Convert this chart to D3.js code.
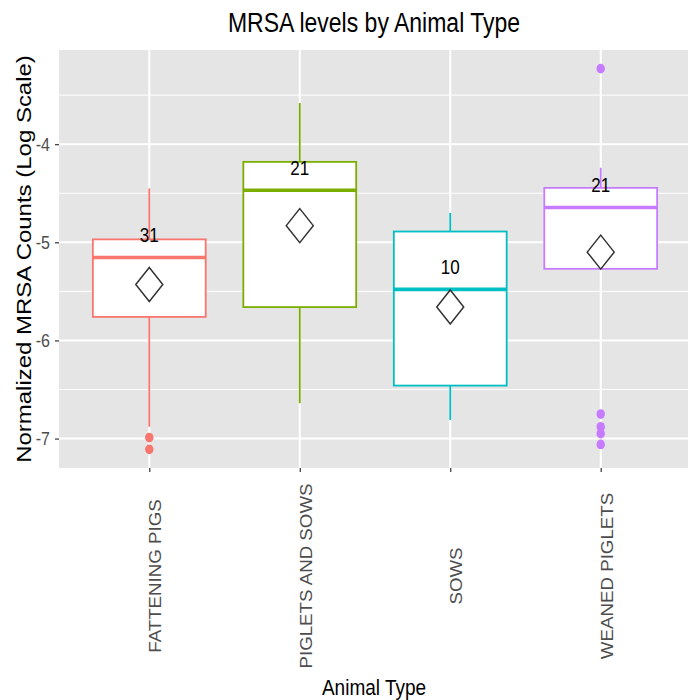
<!doctype html>
<html>
<head>
    <style>
        body { margin: 0; background: #fff; }
        text { font-family: "Liberation Sans", Arial, sans-serif; }
    </style>
    <script src="https://cdn.jsdelivr.net/npm/d3@7"></script>
</head>
<body>
<svg width="688" height="700" class="chart"></svg>
<script>

    // values (log scale)
    var categories = ["FATTENING PIGS", "PIGLETS AND SOWS", "SOWS", "WEANED PIGLETS"];
    var counts     = [31, 21, 10, 21];
    var whiskerLow = [-6.88, -6.64, -6.81, -5.27];
    var q1         = [-5.76, -5.66, -6.46, -5.27];
    var medians    = [-5.155, -4.47, -5.48, -4.645];
    var q3         = [-4.97, -4.18, -4.89, -4.445];
    var whiskerHigh= [-4.45, -3.58, -4.70, -4.24];
    var means      = [-5.43, -4.83, -5.66, -5.10];
    var outliers   = [[-6.99, -7.11], [], [], [-3.23, -6.75, -6.88, -6.95, -7.06]];
    var yTicks     = [-4, -5, -6, -7];
    var yMinor     = [-3.5, -4.5, -5.5, -6.5];
    var colors     = ["#F8766D", "#7CAE00", "#00BFC4", "#C77CFF"];

    var svg = d3.select(".chart"),
        panel = {left: 59, top: 50, right: 691, bottom: 468},
        stretch = 1.17;   // the picture is a bit taller than wide

    var boxes = categories.map(function(c, i) {
        return {cat: c, n: counts[i], lo: whiskerLow[i], q1: q1[i], med: medians[i],
                q3: q3[i], hi: whiskerHigh[i], mean: means[i], out: outliers[i], color: colors[i]};
    });

    var x = d3.scalePoint().domain(categories).range([panel.left, panel.right]).padding(0.6),
        y = d3.scaleLinear().domain([-7.30, -3.04]).range([panel.bottom, panel.top]),
        boxW = x.step() * 0.75;

    // text helper: font stretched vertically like the picture
    function label(px, py, str, size, opts) {
        opts = opts || {};
        var g = svg.append("g")
            .attr("transform", "translate(" + px + "," + py + ") scale(1," + stretch + ")" + (opts.rotate ? " rotate(-90)" : ""));
        return g.append("text")
            .attr("font-size", size + "px")
            .attr("text-anchor", opts.anchor || "middle")
            .attr("dy", opts.dy || 0)
            .attr("fill", opts.fill || "#000")
            .text(str);
    }

    // panel
    svg.append("rect")
       .attr("x", panel.left).attr("y", panel.top)
       .attr("width", panel.right - panel.left).attr("height", panel.bottom - panel.top)
       .attr("fill", "#e5e5e5");

    svg.selectAll(".minor").data(yMinor).enter().append("line")
       .attr("x1", panel.left).attr("x2", panel.right)
       .attr("y1", function(d) { return y(d); }).attr("y2", function(d) { return y(d); })
       .attr("stroke", "#fff").attr("stroke-width", 1);

    svg.selectAll(".major").data(yTicks).enter().append("line")
       .attr("x1", panel.left).attr("x2", panel.right)
       .attr("y1", function(d) { return y(d); }).attr("y2", function(d) { return y(d); })
       .attr("stroke", "#fff").attr("stroke-width", 2);

    svg.selectAll(".vgrid").data(categories).enter().append("line")
       .attr("x1", function(d) { return x(d); }).attr("x2", function(d) { return x(d); })
       .attr("y1", panel.top).attr("y2", panel.bottom)
       .attr("stroke", "#fff").attr("stroke-width", 2);

    // axes
    var yAxis = svg.append("g")
       .attr("transform", "translate(" + panel.left + ",0)")
       .call(d3.axisLeft(y).tickValues(yTicks).tickSize(4).tickPadding(4).tickFormat(d3.format("d")));
    yAxis.select(".domain").remove();
    yAxis.selectAll(".tick line").attr("stroke", "#333").attr("stroke-width", 1.2);
    yAxis.selectAll(".tick text").remove();
    yTicks.forEach(function(t) {
        label(50, y(t), String(t).replace("-", "-"), 16, {anchor: "end", dy: "0.36em", fill: "#4d4d4d"});
    });

    var xAxis = svg.append("g")
       .attr("transform", "translate(0," + panel.bottom + ")")
       .call(d3.axisBottom(x).tickSize(4));
    xAxis.select(".domain").remove();
    xAxis.selectAll(".tick line").attr("stroke", "#333").attr("stroke-width", 1.2);
    xAxis.selectAll(".tick text").remove();
    categories.forEach(function(c) {
        label(x(c) + 12, 576, c, 16, {rotate: true, fill: "#4d4d4d"});
    });

    // boxes
    var g = svg.append("g");
    var b = g.selectAll(".box").data(boxes).enter().append("g").attr("class", "box");

    b.append("line")
     .attr("x1", function(d) { return x(d.cat); }).attr("x2", function(d) { return x(d.cat); })
     .attr("y1", function(d) { return y(d.hi); }).attr("y2", function(d) { return y(d.q3); })
     .attr("stroke", function(d) { return d.color; }).attr("stroke-width", 1.8);
    b.append("line")
     .attr("x1", function(d) { return x(d.cat); }).attr("x2", function(d) { return x(d.cat); })
     .attr("y1", function(d) { return y(d.q1); }).attr("y2", function(d) { return y(d.lo); })
     .attr("stroke", function(d) { return d.color; }).attr("stroke-width", 1.8);

    b.append("rect")
     .attr("x", function(d) { return x(d.cat) - boxW / 2; })
     .attr("y", function(d) { return y(d.q3); })
     .attr("width", boxW)
     .attr("height", function(d) { return y(d.q1) - y(d.q3); })
     .attr("fill", "#fff")
     .attr("stroke", function(d) { return d.color; }).attr("stroke-width", 1.8);

    b.append("line")
     .attr("x1", function(d) { return x(d.cat) - boxW / 2; }).attr("x2", function(d) { return x(d.cat) + boxW / 2; })
     .attr("y1", function(d) { return y(d.med); }).attr("y2", function(d) { return y(d.med); })
     .attr("stroke", function(d) { return d.color; }).attr("stroke-width", 3.6);

    b.selectAll(".out").data(function(d) { return d.out.map(function(v) { return {v: v, d: d}; }); })
     .enter().append("ellipse")
     .attr("cx", function(o) { return x(o.d.cat); })
     .attr("cy", function(o) { return y(o.v); })
     .attr("rx", 4.2).attr("ry", 4.9)
     .attr("fill", function(o) { return o.d.color; });

    // mean diamonds
    b.append("path")
     .attr("d", function(d) {
         var cx = x(d.cat), cy = y(d.mean), w = 13.5, h = 17;
         return "M" + cx + "," + (cy - h) + "L" + (cx + w) + "," + cy + "L" + cx + "," + (cy + h) + "L" + (cx - w) + "," + cy + "Z";
     })
     .attr("fill", "none").attr("stroke", "#333").attr("stroke-width", 1.5);

    // counts
    boxes.forEach(function(d) {
        label(x(d.cat), y(d.med) - 15.7, d.n, 17);
    });

    // titles
    label(374, 31.7, "MRSA levels by Animal Type", 23);
    label(374, 695, "Animal Type", 19);
    label(31, (panel.top + panel.bottom) / 2, "Normalized MRSA Counts (Log Scale)", 20.5, {rotate: true});

</script>
</body>
</html>
